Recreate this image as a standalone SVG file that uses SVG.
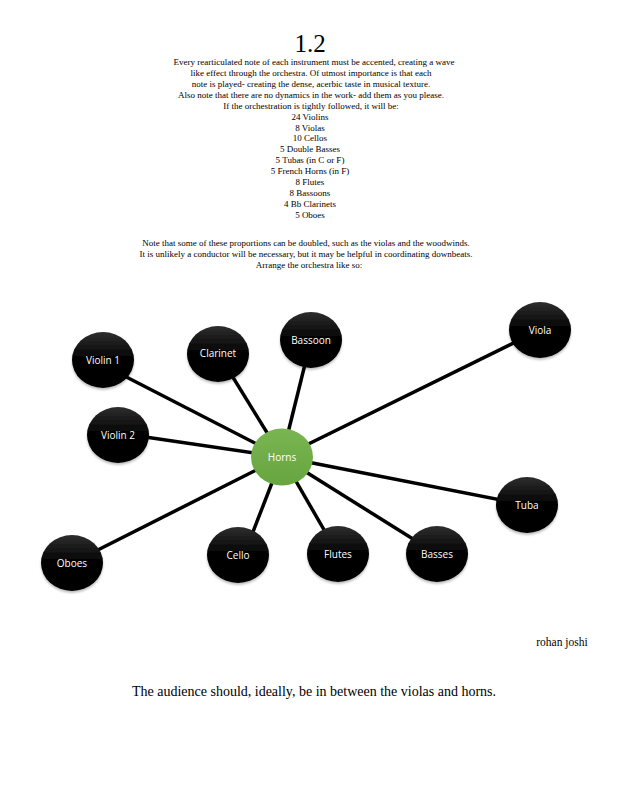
<svg xmlns="http://www.w3.org/2000/svg" width="618" height="800" viewBox="0 0 618 800">
<defs>
<linearGradient id="dark" x1="0" y1="0" x2="0" y2="1">
<stop offset="0" stop-color="#2e2e2e"/>
<stop offset="0.45" stop-color="#050505"/>
<stop offset="1" stop-color="#000"/>
</linearGradient>
<linearGradient id="green" x1="0" y1="0" x2="0" y2="1">
<stop offset="0" stop-color="#7ab552"/>
<stop offset="1" stop-color="#66a53f"/>
</linearGradient>
<filter id="sh" x="-30%" y="-30%" width="160%" height="170%">
<feDropShadow dx="0" dy="2" stdDeviation="1.2" flood-color="#000" flood-opacity="0.25"/>
</filter>
</defs>
<style>
.t{font-family:"Liberation Serif","Times New Roman",serif;fill:#000;text-anchor:middle}
.b{font-size:9px}
.n{fill:url(#dark);filter:url(#sh)}
.l{font-family:"Open Sans","Noto Sans",sans-serif;font-size:10px;fill:#fff;text-anchor:middle}
.c{stroke:#000;stroke-width:3.5;fill:none}
</style>
<rect width="618" height="800" fill="#fff"/>
<text class="t" x="310" y="52" font-size="25">1.2</text>
<g class="t b">
<text x="314" y="65">Every rearticulated note of each instrument must be accented, creating a wave</text>
<text x="311" y="76">like effect through the orchestra. Of utmost importance is that each</text>
<text x="311" y="87">note is played- creating the dense, acerbic taste in musical texture.</text>
<text x="311" y="98">Also note that there are no dynamics in the work- add them as you please.</text>
<text x="311" y="109">If the orchestration is tightly followed, it will be:</text>
<text x="310" y="120">24 Violins</text>
<text x="310" y="131">8 Violas</text>
<text x="310" y="141">10 Cellos</text>
<text x="310" y="152">5 Double Basses</text>
<text x="310" y="163">5 Tubas (in C or F)</text>
<text x="310" y="174">5 French Horns (in F)</text>
<text x="310" y="185">8 Flutes</text>
<text x="310" y="196">8 Bassoons</text>
<text x="310" y="207">4 Bb Clarinets</text>
<text x="310" y="218">5 Oboes</text>
<text x="306" y="246">Note that some of these proportions can be doubled, such as the violas and the woodwinds.</text>
<text x="306" y="257">It is unlikely a conductor will be necessary, but it may be helpful in coordinating downbeats.</text>
<text x="309" y="268">Arrange the orchestra like so:</text>
</g>
<g id="connectors" class="c">
<line x1="103" y1="365" x2="282" y2="457"/>
<line x1="218" y1="353" x2="282" y2="457"/>
<line x1="311" y1="340" x2="282" y2="457"/>
<line x1="540" y1="330" x2="282" y2="457"/>
<line x1="118" y1="433" x2="282" y2="457"/>
<line x1="527" y1="505" x2="282" y2="457"/>
<line x1="437" y1="554" x2="282" y2="457"/>
<line x1="338" y1="554" x2="282" y2="457"/>
<line x1="244" y1="555" x2="282" y2="457"/>
<line x1="72" y1="563" x2="282" y2="457"/>
</g>
<g id="violin1"><ellipse class="n" cx="103" cy="360" rx="31" ry="28"/><text class="l" x="103" y="364">Violin 1</text></g>
<g id="clarinet"><ellipse class="n" cx="218" cy="354" rx="31" ry="28"/><text class="l" x="218" y="357">Clarinet</text></g>
<g id="bassoon"><ellipse class="n" cx="311" cy="340" rx="31" ry="28"/><text class="l" x="311" y="344">Bassoon</text></g>
<g id="viola"><ellipse class="n" cx="540" cy="330" rx="31" ry="28"/><text class="l" x="540" y="334">Viola</text></g>
<g id="violin2"><ellipse class="n" cx="118" cy="435" rx="31" ry="28"/><text class="l" x="118" y="439">Violin 2</text></g>
<g id="tuba"><ellipse class="n" cx="527" cy="505" rx="31" ry="28"/><text class="l" x="527" y="509">Tuba</text></g>
<g id="oboes"><ellipse class="n" cx="72" cy="563" rx="31" ry="28"/><text class="l" x="72" y="567">Oboes</text></g>
<g id="cello"><ellipse class="n" cx="238" cy="555" rx="31" ry="28"/><text class="l" x="238" y="559">Cello</text></g>
<g id="flutes"><ellipse class="n" cx="338" cy="554" rx="31" ry="28"/><text class="l" x="338" y="558">Flutes</text></g>
<g id="basses"><ellipse class="n" cx="437" cy="554" rx="31" ry="28"/><text class="l" x="437" y="558">Basses</text></g>
<g id="horns"><ellipse cx="282" cy="457" rx="31" ry="28.5" fill="url(#green)"/><text class="l" x="282" y="461">Horns</text></g>
<text class="t" x="562" y="646" font-size="11.5">rohan joshi</text>
<text class="t" x="314" y="696" font-size="14">The audience should, ideally, be in between the violas and horns.</text>
</svg>
